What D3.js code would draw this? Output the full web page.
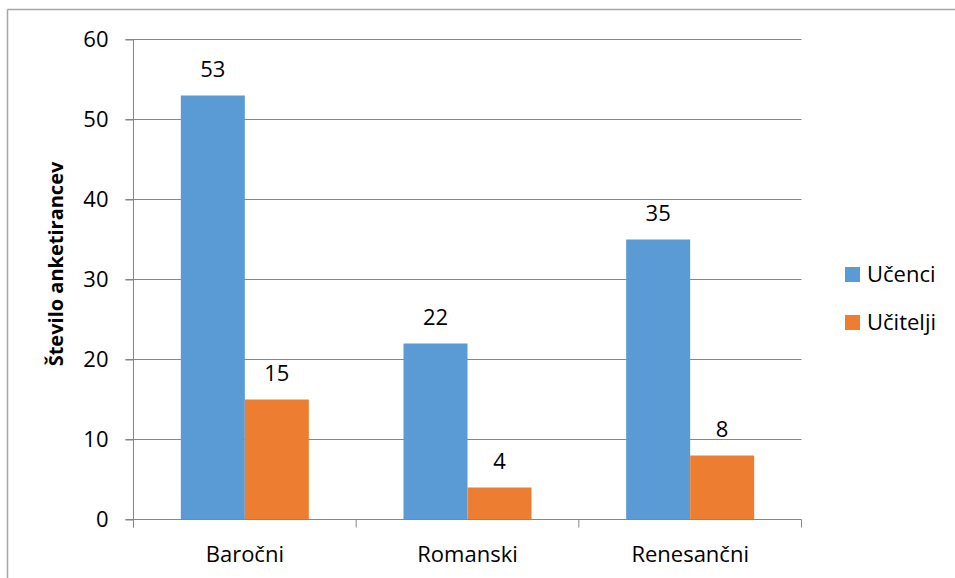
<!DOCTYPE html>
<html><head><meta charset="utf-8">
<script src="https://cdn.jsdelivr.net/npm/d3@7"></script>
<style>
html,body{margin:0;padding:0;background:#fff;}
svg{display:block;font-family:"Open Sans",sans-serif;}
</style></head>
<body>
<script>
const categories = ["Baročni", "Romanski", "Renesančni"];
const seriesNames = ["Učenci", "Učitelji"];
const ucenci = [53, 22, 35];
const ucitelji = [15, 4, 8];
const yTicks = [0, 10, 20, 30, 40, 50, 60];
const colors = ["#5B9BD5", "#ED7D31"];

(function(){
const W = 955, H = 578;
const FS = 22;
const svg = d3.select("body").append("svg").attr("width", W).attr("height", H);

// outer border
svg.append("line").attr("x1", 7.5).attr("x2", W + 5).attr("y1", 9.5).attr("y2", 9.5)
  .attr("stroke", "#a6a6a6").attr("stroke-width", 1.5);
svg.append("line").attr("x1", 7.5).attr("x2", 7.5).attr("y1", 9.5).attr("y2", H + 5)
  .attr("stroke", "#a6a6a6").attr("stroke-width", 1.5);

const pL = 133.5, pR = 801.5, pT = 39.5, pB = 519.5;
const x = d3.scaleBand().domain(categories).range([pL, pR]).paddingInner(0).paddingOuter(0);
const y = d3.scaleLinear().domain([0, 60]).range([pB, pT]);
const barW = 64;

// gridlines
svg.append("g").selectAll("line").data(yTicks.filter(d => d > 0)).join("line")
  .attr("x1", pL - 8).attr("x2", pR).attr("y1", d => y(d)).attr("y2", d => y(d))
  .attr("stroke", "#868686").attr("stroke-width", 1);

// bars
const data = categories.map((c, i) => ({c, vals: [ucenci[i], ucitelji[i]]}));
const g = svg.append("g");
data.forEach(d => {
  d.vals.forEach((v, s) => {
    const cx = x(d.c) + x.bandwidth() / 2;
    const bx = cx - barW + s * barW;
    g.append("rect").attr("x", bx).attr("y", y(v)).attr("width", barW).attr("height", y(0) - y(v))
      .attr("fill", colors[s]);
    g.append("text").attr("x", bx + barW / 2).attr("y", y(v) - 19).attr("text-anchor", "middle")
      .attr("font-size", FS).attr("fill", "#000").text(v);
  });
});

// y axis
const yAxis = svg.append("g").attr("transform", `translate(${pL},0)`)
  .call(d3.axisLeft(y).tickValues(yTicks).tickSize(8).tickPadding(17).tickFormat(d3.format("d")));
yAxis.select(".domain").remove();
yAxis.selectAll(".tick line").attr("stroke", "#868686");
yAxis.selectAll(".tick text").attr("font-size", FS).attr("font-family", "Open Sans").attr("fill", "#000");
svg.append("line").attr("x1", pL).attr("x2", pL).attr("y1", pT).attr("y2", pB + 8).attr("stroke", "#868686");

// x axis
svg.append("line").attr("x1", pL - 8).attr("x2", pR).attr("y1", pB).attr("y2", pB).attr("stroke", "#868686");
const xAxis = svg.append("g").attr("transform", `translate(0,${pB})`)
  .call(d3.axisBottom(x).tickSize(0));
xAxis.select(".domain").remove();
xAxis.selectAll(".tick text").attr("font-size", FS).attr("font-family", "Open Sans").attr("fill", "#000")
  .attr("y", 42).attr("dy", 0);
svg.append("g").selectAll("line").data([0, 1, 2, 3]).join("line")
  .attr("x1", i => i < 3 ? x(categories[i]) : pR).attr("x2", i => i < 3 ? x(categories[i]) : pR)
  .attr("y1", pB).attr("y2", pB + 8).attr("stroke", "#868686");

// y title
svg.append("text").attr("transform", `translate(63,264) rotate(-90)`).attr("text-anchor", "middle")
  .attr("font-size", 20).attr("font-weight", "bold").text("Število anketirancev");

// legend
const leg = svg.append("g");
seriesNames.forEach((n, i) => {
  leg.append("rect").attr("x", 845).attr("y", 267 + i * 48).attr("width", 15).attr("height", 15).attr("fill", colors[i]);
  leg.append("text").attr("x", 867).attr("y", 282 + i * 48).attr("font-size", FS).text(n);
});
})();
</script>
</body></html>
